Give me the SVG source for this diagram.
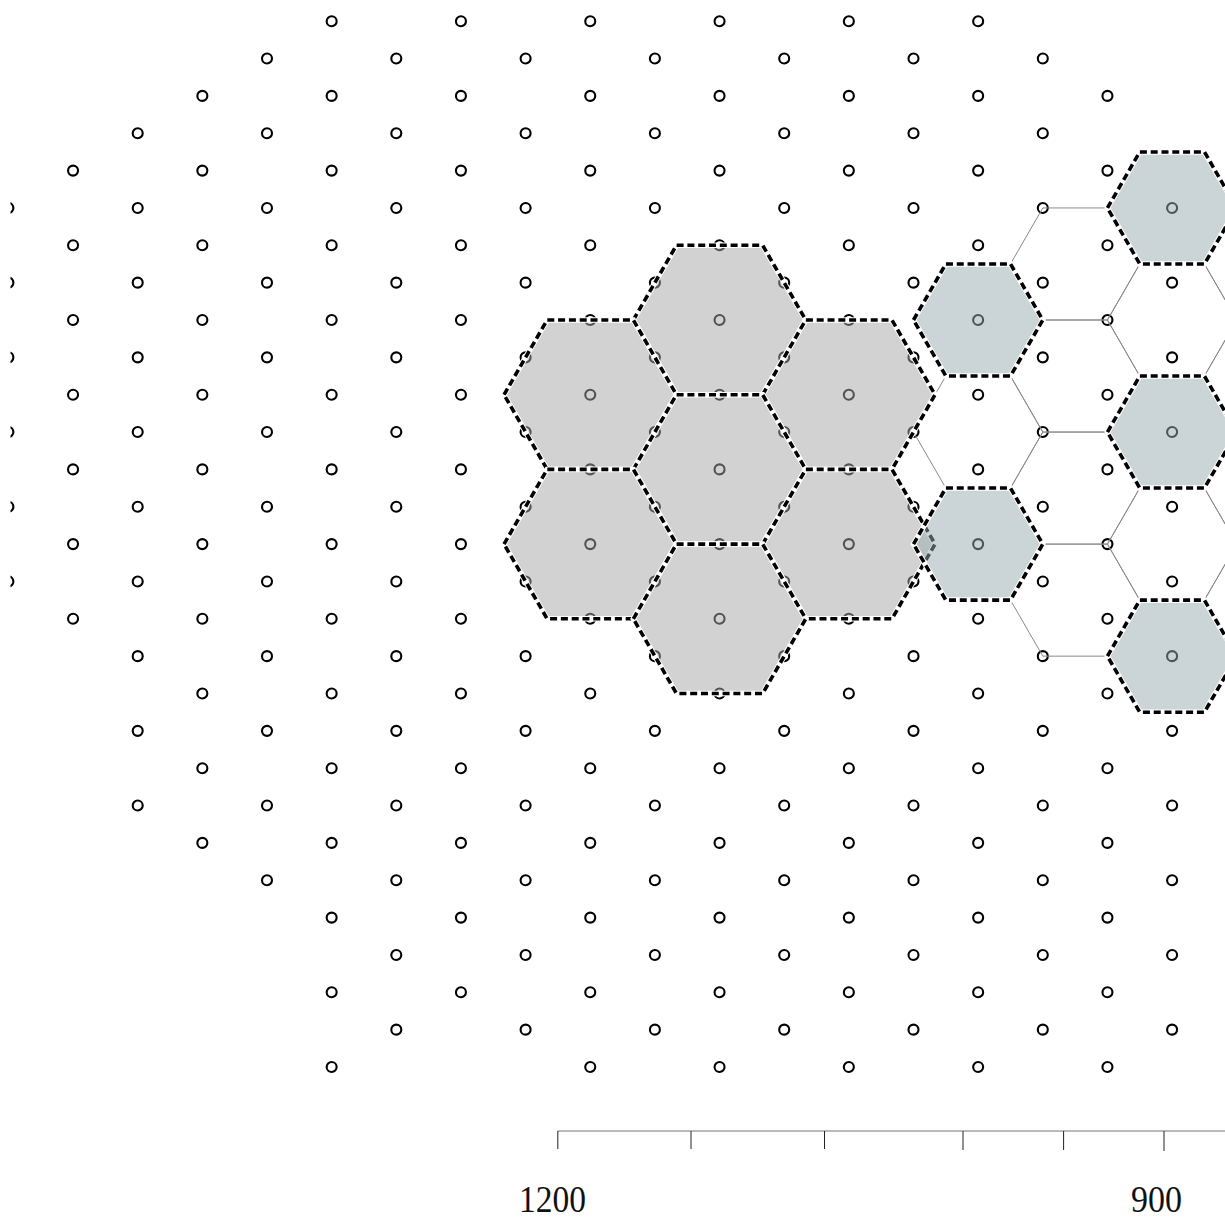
<svg xmlns="http://www.w3.org/2000/svg" xmlns:xlink="http://www.w3.org/1999/xlink" width="1225" height="1219" viewBox="0 0 1225 1219">
<style>
  .pt circle { fill: none; stroke: #000; stroke-width: 2.1; }
  .cell { fill: none; stroke: #8a8a8a; stroke-width: 1; }
  .gfill { fill: #a6a6a6; fill-opacity: 0.5; stroke: #fff; stroke-width: 5.5; stroke-linejoin: miter; }
  .bfill { fill: #98a9af; fill-opacity: 0.5; stroke: #fff; stroke-width: 5.5; stroke-linejoin: miter; }
  .dash { fill: none; stroke: #000; stroke-width: 3.6; stroke-dasharray: 7 3.8; stroke-linejoin: miter; }
  .axis { stroke: #777; stroke-width: 1.2; fill: none; }
  .tick { stroke: #222; stroke-width: 1; }
  .lbl { font-family: "Liberation Serif", "Times New Roman", serif; font-size: 37px; fill: #111; }
</style>
<defs>
  <path id="hexL" d="M-86.2,0 L-43.1,-74.7 L43.1,-74.7 L86.2,0 L43.1,74.7 L-43.1,74.7 Z"/>
  <path id="hexS" d="M-64.65,0 L-32.325,-56.025 L32.325,-56.025 L64.65,0 L32.325,56.025 L-32.325,56.025 Z"/>
  <clipPath id="edgeclip"><rect x="10.5" y="0" width="1214.5" height="1219"/></clipPath>
</defs>
<rect width="1225" height="1219" fill="#fff"/>

<g id="points" class="pt" clip-path="url(#edgeclip)">
  <g transform="translate(0,21.2)"><circle cx="331.65" r="5"/><circle cx="460.95" r="5"/><circle cx="590.25" r="5"/><circle cx="719.55" r="5"/><circle cx="848.85" r="5"/><circle cx="978.15" r="5"/></g>
  <g transform="translate(0,58.55)"><circle cx="267" r="5"/><circle cx="396.3" r="5"/><circle cx="525.6" r="5"/><circle cx="654.9" r="5"/><circle cx="784.2" r="5"/><circle cx="913.5" r="5"/><circle cx="1042.8" r="5"/></g>
  <g transform="translate(0,95.9)"><circle cx="202.35" r="5"/><circle cx="331.65" r="5"/><circle cx="460.95" r="5"/><circle cx="590.25" r="5"/><circle cx="719.55" r="5"/><circle cx="848.85" r="5"/><circle cx="978.15" r="5"/><circle cx="1107.45" r="5"/></g>
  <g transform="translate(0,133.25)"><circle cx="137.7" r="5"/><circle cx="267" r="5"/><circle cx="396.3" r="5"/><circle cx="525.6" r="5"/><circle cx="654.9" r="5"/><circle cx="784.2" r="5"/><circle cx="913.5" r="5"/><circle cx="1042.8" r="5"/></g>
  <g transform="translate(0,170.6)"><circle cx="73.05" r="5"/><circle cx="202.35" r="5"/><circle cx="331.65" r="5"/><circle cx="460.95" r="5"/><circle cx="590.25" r="5"/><circle cx="719.55" r="5"/><circle cx="848.85" r="5"/><circle cx="978.15" r="5"/><circle cx="1107.45" r="5"/></g>
  <g transform="translate(0,207.95)"><circle cx="8.4" r="5"/><circle cx="137.7" r="5"/><circle cx="267" r="5"/><circle cx="396.3" r="5"/><circle cx="525.6" r="5"/><circle cx="654.9" r="5"/><circle cx="784.2" r="5"/><circle cx="913.5" r="5"/><circle cx="1042.8" r="5"/><circle cx="1172.1" r="5"/></g>
  <g transform="translate(0,245.3)"><circle cx="73.05" r="5"/><circle cx="202.35" r="5"/><circle cx="331.65" r="5"/><circle cx="460.95" r="5"/><circle cx="590.25" r="5"/><circle cx="719.55" r="5"/><circle cx="848.85" r="5"/><circle cx="978.15" r="5"/><circle cx="1107.45" r="5"/></g>
  <g transform="translate(0,282.65)"><circle cx="8.4" r="5"/><circle cx="137.7" r="5"/><circle cx="267" r="5"/><circle cx="396.3" r="5"/><circle cx="525.6" r="5"/><circle cx="654.9" r="5"/><circle cx="784.2" r="5"/><circle cx="913.5" r="5"/><circle cx="1042.8" r="5"/><circle cx="1172.1" r="5"/></g>
  <g transform="translate(0,320)"><circle cx="73.05" r="5"/><circle cx="202.35" r="5"/><circle cx="331.65" r="5"/><circle cx="460.95" r="5"/><circle cx="590.25" r="5"/><circle cx="719.55" r="5"/><circle cx="848.85" r="5"/><circle cx="978.15" r="5"/><circle cx="1107.45" r="5"/></g>
  <g transform="translate(0,357.35)"><circle cx="8.4" r="5"/><circle cx="137.7" r="5"/><circle cx="267" r="5"/><circle cx="396.3" r="5"/><circle cx="525.6" r="5"/><circle cx="654.9" r="5"/><circle cx="784.2" r="5"/><circle cx="913.5" r="5"/><circle cx="1042.8" r="5"/><circle cx="1172.1" r="5"/></g>
  <g transform="translate(0,394.7)"><circle cx="73.05" r="5"/><circle cx="202.35" r="5"/><circle cx="331.65" r="5"/><circle cx="460.95" r="5"/><circle cx="590.25" r="5"/><circle cx="719.55" r="5"/><circle cx="848.85" r="5"/><circle cx="978.15" r="5"/><circle cx="1107.45" r="5"/></g>
  <g transform="translate(0,432.05)"><circle cx="8.4" r="5"/><circle cx="137.7" r="5"/><circle cx="267" r="5"/><circle cx="396.3" r="5"/><circle cx="525.6" r="5"/><circle cx="654.9" r="5"/><circle cx="784.2" r="5"/><circle cx="913.5" r="5"/><circle cx="1042.8" r="5"/><circle cx="1172.1" r="5"/></g>
  <g transform="translate(0,469.4)"><circle cx="73.05" r="5"/><circle cx="202.35" r="5"/><circle cx="331.65" r="5"/><circle cx="460.95" r="5"/><circle cx="590.25" r="5"/><circle cx="719.55" r="5"/><circle cx="848.85" r="5"/><circle cx="978.15" r="5"/><circle cx="1107.45" r="5"/></g>
  <g transform="translate(0,506.75)"><circle cx="8.4" r="5"/><circle cx="137.7" r="5"/><circle cx="267" r="5"/><circle cx="396.3" r="5"/><circle cx="525.6" r="5"/><circle cx="654.9" r="5"/><circle cx="784.2" r="5"/><circle cx="913.5" r="5"/><circle cx="1042.8" r="5"/><circle cx="1172.1" r="5"/></g>
  <g transform="translate(0,544.1)"><circle cx="73.05" r="5"/><circle cx="202.35" r="5"/><circle cx="331.65" r="5"/><circle cx="460.95" r="5"/><circle cx="590.25" r="5"/><circle cx="719.55" r="5"/><circle cx="848.85" r="5"/><circle cx="978.15" r="5"/><circle cx="1107.45" r="5"/></g>
  <g transform="translate(0,581.45)"><circle cx="8.4" r="5"/><circle cx="137.7" r="5"/><circle cx="267" r="5"/><circle cx="396.3" r="5"/><circle cx="525.6" r="5"/><circle cx="654.9" r="5"/><circle cx="784.2" r="5"/><circle cx="913.5" r="5"/><circle cx="1042.8" r="5"/><circle cx="1172.1" r="5"/></g>
  <g transform="translate(0,618.8)"><circle cx="73.05" r="5"/><circle cx="202.35" r="5"/><circle cx="331.65" r="5"/><circle cx="460.95" r="5"/><circle cx="590.25" r="5"/><circle cx="719.55" r="5"/><circle cx="848.85" r="5"/><circle cx="978.15" r="5"/><circle cx="1107.45" r="5"/></g>
  <g transform="translate(0,656.15)"><circle cx="137.7" r="5"/><circle cx="267" r="5"/><circle cx="396.3" r="5"/><circle cx="525.6" r="5"/><circle cx="654.9" r="5"/><circle cx="784.2" r="5"/><circle cx="913.5" r="5"/><circle cx="1042.8" r="5"/><circle cx="1172.1" r="5"/></g>
  <g transform="translate(0,693.5)"><circle cx="202.35" r="5"/><circle cx="331.65" r="5"/><circle cx="460.95" r="5"/><circle cx="590.25" r="5"/><circle cx="719.55" r="5"/><circle cx="848.85" r="5"/><circle cx="978.15" r="5"/><circle cx="1107.45" r="5"/></g>
  <g transform="translate(0,730.85)"><circle cx="137.7" r="5"/><circle cx="267" r="5"/><circle cx="396.3" r="5"/><circle cx="525.6" r="5"/><circle cx="654.9" r="5"/><circle cx="784.2" r="5"/><circle cx="913.5" r="5"/><circle cx="1042.8" r="5"/><circle cx="1172.1" r="5"/></g>
  <g transform="translate(0,768.2)"><circle cx="202.35" r="5"/><circle cx="331.65" r="5"/><circle cx="460.95" r="5"/><circle cx="590.25" r="5"/><circle cx="719.55" r="5"/><circle cx="848.85" r="5"/><circle cx="978.15" r="5"/><circle cx="1107.45" r="5"/></g>
  <g transform="translate(0,805.55)"><circle cx="137.7" r="5"/><circle cx="267" r="5"/><circle cx="396.3" r="5"/><circle cx="525.6" r="5"/><circle cx="654.9" r="5"/><circle cx="784.2" r="5"/><circle cx="913.5" r="5"/><circle cx="1042.8" r="5"/><circle cx="1172.1" r="5"/></g>
  <g transform="translate(0,842.9)"><circle cx="202.35" r="5"/><circle cx="331.65" r="5"/><circle cx="460.95" r="5"/><circle cx="590.25" r="5"/><circle cx="719.55" r="5"/><circle cx="848.85" r="5"/><circle cx="978.15" r="5"/><circle cx="1107.45" r="5"/></g>
  <g transform="translate(0,880.25)"><circle cx="267" r="5"/><circle cx="396.3" r="5"/><circle cx="525.6" r="5"/><circle cx="654.9" r="5"/><circle cx="784.2" r="5"/><circle cx="913.5" r="5"/><circle cx="1042.8" r="5"/><circle cx="1172.1" r="5"/></g>
  <g transform="translate(0,917.6)"><circle cx="331.65" r="5"/><circle cx="460.95" r="5"/><circle cx="590.25" r="5"/><circle cx="719.55" r="5"/><circle cx="848.85" r="5"/><circle cx="978.15" r="5"/><circle cx="1107.45" r="5"/></g>
  <g transform="translate(0,954.95)"><circle cx="396.3" r="5"/><circle cx="525.6" r="5"/><circle cx="654.9" r="5"/><circle cx="784.2" r="5"/><circle cx="913.5" r="5"/><circle cx="1042.8" r="5"/><circle cx="1172.1" r="5"/></g>
  <g transform="translate(0,992.3)"><circle cx="331.65" r="5"/><circle cx="460.95" r="5"/><circle cx="590.25" r="5"/><circle cx="719.55" r="5"/><circle cx="848.85" r="5"/><circle cx="978.15" r="5"/><circle cx="1107.45" r="5"/></g>
  <g transform="translate(0,1029.65)"><circle cx="396.3" r="5"/><circle cx="525.6" r="5"/><circle cx="654.9" r="5"/><circle cx="784.2" r="5"/><circle cx="913.5" r="5"/><circle cx="1042.8" r="5"/><circle cx="1172.1" r="5"/></g>
  <g transform="translate(0,1067)"><circle cx="331.65" r="5"/><circle cx="590.25" r="5"/><circle cx="719.55" r="5"/><circle cx="848.85" r="5"/><circle cx="978.15" r="5"/><circle cx="1107.45" r="5"/></g>
</g>

<g id="connectors">
  <use href="#hexS" class="cell" transform="translate(978.15,320)"/>
  <use href="#hexS" class="cell" transform="translate(978.15,432.05)"/>
  <use href="#hexS" class="cell" transform="translate(978.15,544.1)"/>
  <use href="#hexS" class="cell" transform="translate(1075.125,263.975)"/>
  <use href="#hexS" class="cell" transform="translate(1075.125,376.025)"/>
  <use href="#hexS" class="cell" transform="translate(1075.125,488.075)"/>
  <use href="#hexS" class="cell" transform="translate(1075.125,600.125)"/>
  <use href="#hexS" class="cell" transform="translate(1172.1,207.95)"/>
  <use href="#hexS" class="cell" transform="translate(1172.1,320)"/>
  <use href="#hexS" class="cell" transform="translate(1172.1,432.05)"/>
  <use href="#hexS" class="cell" transform="translate(1172.1,544.1)"/>
  <use href="#hexS" class="cell" transform="translate(1172.1,656.15)"/>
  <use href="#hexS" class="cell" transform="translate(1269.075,263.975)"/>
  <use href="#hexS" class="cell" transform="translate(1269.075,376.025)"/>
  <use href="#hexS" class="cell" transform="translate(1269.075,488.075)"/>
  <use href="#hexS" class="cell" transform="translate(1269.075,600.125)"/>
</g>

<g id="gray-hexes">
  <g id="ghex-top" transform="translate(719.55,320)"><use href="#hexL" class="gfill"/><use href="#hexL" class="dash"/></g>
  <g id="ghex-upleft" transform="translate(590.25,394.7)"><use href="#hexL" class="gfill"/><use href="#hexL" class="dash"/></g>
  <g id="ghex-upright" transform="translate(848.85,394.7)"><use href="#hexL" class="gfill"/><use href="#hexL" class="dash"/></g>
  <g id="ghex-center" transform="translate(719.55,469.4)"><use href="#hexL" class="gfill"/><use href="#hexL" class="dash"/></g>
  <g id="ghex-lowleft" transform="translate(590.25,544.1)"><use href="#hexL" class="gfill"/><use href="#hexL" class="dash"/></g>
  <g id="ghex-lowright" transform="translate(848.85,544.1)"><use href="#hexL" class="gfill"/><use href="#hexL" class="dash"/></g>
  <g id="ghex-bottom" transform="translate(719.55,618.8)"><use href="#hexL" class="gfill"/><use href="#hexL" class="dash"/></g>
</g>

<g id="blue-hexes">
  <g id="bhex-1" transform="translate(978.15,320)"><use href="#hexS" class="bfill"/><use href="#hexS" class="dash"/></g>
  <g id="bhex-2" transform="translate(978.15,544.1)"><use href="#hexS" class="bfill"/><use href="#hexS" class="dash"/></g>
  <g id="bhex-3" transform="translate(1172.1,207.95)"><use href="#hexS" class="bfill"/><use href="#hexS" class="dash"/></g>
  <g id="bhex-4" transform="translate(1172.1,432.05)"><use href="#hexS" class="bfill"/><use href="#hexS" class="dash"/></g>
  <g id="bhex-5" transform="translate(1172.1,656.15)"><use href="#hexS" class="bfill"/><use href="#hexS" class="dash"/></g>
</g>

<g id="axis">
  <line class="axis" x1="557.8" y1="1131" x2="1225" y2="1131"/>
  <line class="tick" x1="557.8" y1="1131" x2="557.8" y2="1149"/>
  <line class="tick" x1="691" y1="1131" x2="691" y2="1149"/>
  <line class="tick" x1="824.5" y1="1131" x2="824.5" y2="1149"/>
  <line class="tick" x1="963" y1="1131" x2="963" y2="1150"/>
  <line class="tick" x1="1063.6" y1="1131" x2="1063.6" y2="1150"/>
  <line class="tick" x1="1164" y1="1131" x2="1164" y2="1151"/>
  <text class="lbl" x="519" y="1212" textLength="67" lengthAdjust="spacingAndGlyphs">1200</text>
  <text class="lbl" x="1131" y="1212" textLength="51" lengthAdjust="spacingAndGlyphs">900</text>
</g>
</svg>
